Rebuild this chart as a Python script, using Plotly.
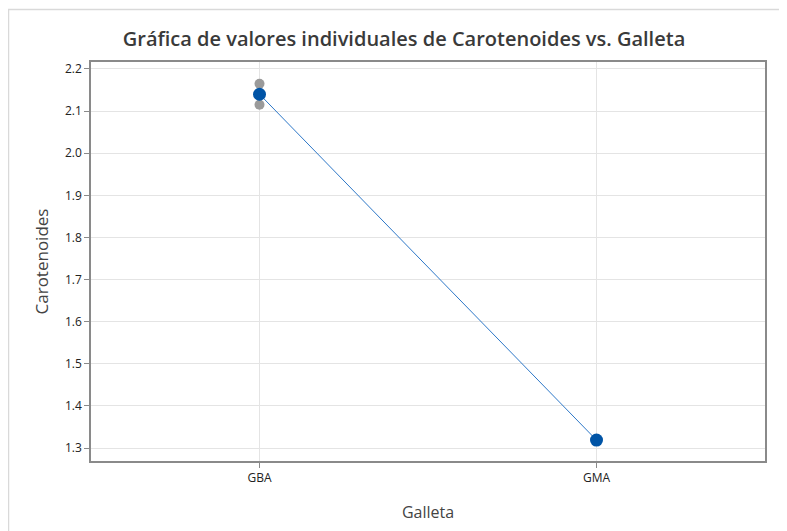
import plotly.graph_objects as go

# Datos
galletas = ["GBA", "GMA"]
obs_galleta = ["GBA", "GBA", "GMA", "GMA"]
obs_carotenoides = [2.165, 2.115, 1.319, 1.319]
medias = [2.140, 1.319]
y_ticks = [1.3, 1.4, 1.5, 1.6, 1.7, 1.8, 1.9, 2.0, 2.1, 2.2]

fig = go.Figure()

# valores individuales
fig.add_trace(go.Scatter(
    x=obs_galleta, y=obs_carotenoides, mode="markers",
    marker=dict(color="#9a9a9a", size=10),
    showlegend=False, hoverinfo="x+y",
))

# medias unidas
fig.add_trace(go.Scatter(
    x=galletas, y=medias, mode="lines+markers",
    line=dict(color="#2e78c8", width=1),
    marker=dict(color="#0054a6", size=13),
    showlegend=False,
))

# marco exterior claro
fig.add_shape(type="rect", xref="paper", yref="paper",
              x0=-0.1224, x1=1.2, y0=-0.3, y1=1.1318,
              line=dict(color="#d9d9d9", width=1.5), layer="below")

# la pagina tiene 8px de margen en body
fig.update_layout(
    width=779, height=523,
    margin=dict(l=83, r=22, t=54, b=67),
    paper_bgcolor="white", plot_bgcolor="white",
    font=dict(family="Open Sans", color="#222"),
    title=dict(
        text="Gráfica de valores individuales de Carotenoides vs. Galleta",
        x=396 / 779, xanchor="center", y=1 - 31 / 523, yanchor="middle",
        font=dict(size=20, color="#3a3a3a", family="Open Sans", weight=600),
    ),
)
fig.update_xaxes(
    title=dict(text="Galleta", font=dict(size=16, color="#444", weight=500), standoff=22),
    range=[-0.5, 1.5], categoryorder="array", categoryarray=galletas,
    showgrid=True, gridcolor="#e4e4e4", gridwidth=1,
    showline=True, linecolor="#8a8a8a", linewidth=1.5, mirror=True,
    ticks="outside", ticklen=5, tickcolor="#8a8a8a",
    tickfont=dict(size=12, color="#222", weight=500),
)
fig.update_yaxes(
    title=dict(text="Carotenoides", font=dict(size=17, color="#444", weight=500), standoff=12),
    range=[1.2694, 2.2165], tickvals=y_ticks,
    tickformat=".1f",
    showgrid=True, gridcolor="#e4e4e4", gridwidth=1,
    showline=True, linecolor="#8a8a8a", linewidth=1.5, mirror=True,
    ticks="outside", ticklen=5, tickcolor="#8a8a8a",
    tickfont=dict(size=12, color="#222", weight=500), zeroline=False,
)

fig.write_html("out.html")
